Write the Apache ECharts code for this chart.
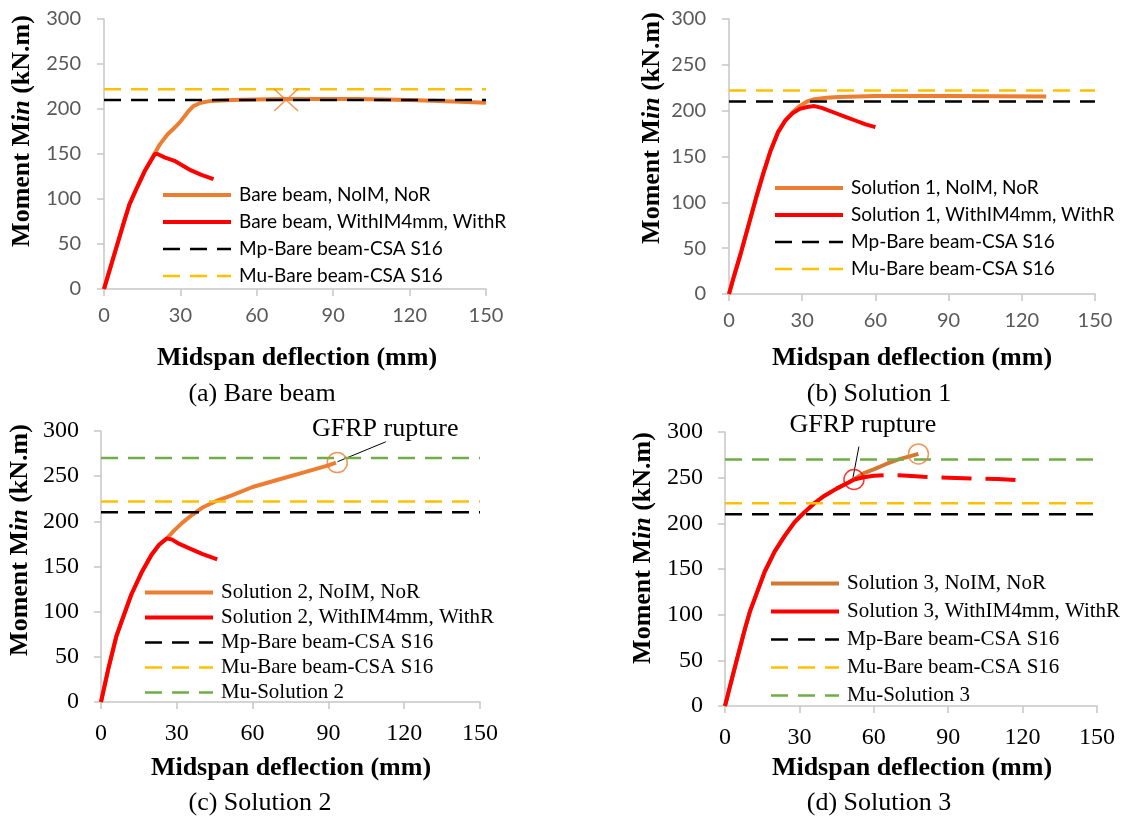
<!DOCTYPE html>
<html><head><meta charset="utf-8">
<script src="https://cdn.jsdelivr.net/npm/echarts@6/dist/echarts.min.js"></script>
<style>html,body{margin:0;padding:0;background:#fff}#c{width:1126px;height:819px}</style>
</head><body><div id="c"></div>
<script>
// ---------- axis ticks ----------
const xAxisMin = 0, xAxisMax = 150, xAxisStep = 30;
const yAxisMin = 0, yAxisMax = 300, yAxisStep = 50;

// ---------- capacity lines (kN.m) ----------
const mpBare = 210;
const muBare = 222;
const muSolution2 = 270;
const muSolution3 = 270;

// ---------- (a) Bare beam ----------
const bareNoIM = [[0,0],[2,19],[4,38],[6,57],[8,76],[10,94],[13,113],[16,131],[20,151],[22,161],[25,172],[28,180],[30,186],[33,197],[35,203],[38,207],[42,209],[50,210],[70,211],[100,211],[120,210],[140,208],[150,207]];
const bareWithIM = [[0,0],[2,19],[4,38],[6,57],[8,76],[10,94],[13,113],[16,131],[20,150],[21,150],[24,146],[28,142],[31,137],[34,132],[38,127],[43,122]];
const bareEnd = [[71.5,210]];

// ---------- (b) Solution 1 ----------
const sol1NoIM = [[0,0],[2,19],[5,46],[8,75],[11,104],[14,131],[17,156],[20,176],[23,189],[26,198],[29,205],[32,210],[35,212.5],[40,214],[45,215],[60,216],[90,216],[130,215.5]];
const sol1WithIM = [[0,0],[2,19],[5,46],[8,75],[11,104],[14,131],[17,156],[20,176],[23,189],[26,197],[29,202],[32,204],[35,205],[38,203],[43,198],[48,193],[52,189],[56,185],[60,182]];

// ---------- (c) Solution 2 ----------
const sol2NoIM = [[0,0],[3,38],[6,72],[8,88],[12,119],[16,143],[20,163],[23,174],[26,181],[29,190],[32,198],[36,207],[40,215],[46,223],[52,229],[60,238],[70,246],[80,254],[90,262],[93,265]];
const sol2WithIM = [[0,0],[3,38],[6,72],[8,88],[12,119],[16,143],[20,163],[23,174],[26,181],[28,180],[31,175],[35,170],[40,164],[46,158]];
const sol2Rupture = [[93.5,265]];

// ---------- (d) Solution 3 ----------
const sol3NoIM = [[0,0],[3,32],[5,53],[8,84],[10,103],[13,125],[16,147],[20,169],[24,186],[28,201],[32,212],[36,222],[40,230],[45,238],[50,245],[52,248],[56,255],[60,259],[65,265],[70,270],[74,273],[78,276]];
const sol3WithIM = [[0,0],[3,32],[5,53],[8,84],[10,103],[13,125],[16,147],[20,169],[24,186],[28,201],[32,212],[36,222],[40,230],[45,238],[50,245],[52,248]];
const sol3WithIMPost = [[52,248],[56,250.5],[60,252],[66,253],[72,252.5],[80,251],[90,250],[100,249],[110,248.5],[120,247]];
const sol3RuptureNoIM = [[78,276]];
const sol3RuptureWithIM = [[52,248]];

// ---------- annotation anchors (data units) ----------
const annotC = {text:'GFRP rupture', textAt:[112.5,302], from:[112.7,288], to:[93.6,266]};
const annotD = {text:'GFRP rupture', textAt:[55.6,307.5], from:[54,284], to:[51.6,250]};

const SERIF = 'Liberation Serif';
const SANS = 'Lato';
const ORANGE = '#ED7D31', ORANGE_D = '#D27A33', RED = '#FF0000', BLACK = '#000000', GOLD = '#FFC000', GREEN = '#70AD47';

const grids = [
  {left:104, top:19, width:382, height:270},
  {left:729, top:19, width:366, height:275},
  {left:101, top:431, width:379, height:271},
  {left:725, top:432, width:372, height:274}
];
const serifPanel = [false,false,true,true];

function xAx(i){
  const s = serifPanel[i];
  return {type:'value', gridIndex:i, min:xAxisMin, max:xAxisMax, interval:xAxisStep,
    axisLine:{show:true, lineStyle:{color:'#C6C6C6', width:1.5}},
    axisTick:{show:true, length:7, lineStyle:{color:'#C6C6C6', width:1.5}},
    splitLine:{show:false},
    axisLabel:{margin: s?20:17, fontFamily: s?SERIF:SANS, fontSize: s?24:20, color: s?'#000':'#595959'}};
}
function yAx(i){
  const s = serifPanel[i];
  return {type:'value', gridIndex:i, min:yAxisMin, max:yAxisMax, interval:yAxisStep,
    axisLine:{show:true, onZero:false, lineStyle:{color:'#C6C6C6', width:1.5}},
    axisTick:{show:true, length:7, lineStyle:{color:'#C6C6C6', width:1.5}},
    splitLine:{show:false},
    axisLabel:{margin: s?22:23, fontFamily: s?SERIF:SANS, fontSize: s?24:20, color: s?'#000':'#595959'}};
}
function line(i, name, data, color, width, dash){
  return {type:'line', name, data, xAxisIndex:i, yAxisIndex:i, symbol:'none', smooth:false,
    lineStyle:{color, width, type: dash || 'solid'}, itemStyle:{color}, z:2, animation:false};
}
function hline(i, name, v, color){
  return line(i, name, [[xAxisMin,v],[xAxisMax,v]], color, 2.5, [17,10]);
}
function marker(i, name, data, color, symbol, size){
  return {type:'scatter', name, data, xAxisIndex:i, yAxisIndex:i, symbol, symbolSize:size,
    itemStyle:{color:'rgba(0,0,0,0)', borderColor:color, borderWidth:1.5}, z:5, animation:false, silent:true};
}

const series = [
  line(0,'Bare beam, NoIM, NoR', bareNoIM, ORANGE, 4),
  line(0,'Bare beam, WithIM4mm, WithR', bareWithIM, RED, 4),
  hline(0,'Mp-Bare beam-CSA S16', mpBare, BLACK),
  hline(0,'Mu-Bare beam-CSA S16', muBare, GOLD),
  marker(0,'bare-end', bareEnd, ORANGE, 'path://M0,0L10,10M10,0L0,10', [24,22]),

  line(1,'Solution 1, NoIM, NoR', sol1NoIM, ORANGE, 4),
  line(1,'Solution 1, WithIM4mm, WithR', sol1WithIM, RED, 4),
  hline(1,'Mp-Bare beam-CSA S16', mpBare, BLACK),
  hline(1,'Mu-Bare beam-CSA S16', muBare, GOLD),

  line(2,'Solution 2, NoIM, NoR', sol2NoIM, ORANGE, 4),
  line(2,'Solution 2, WithIM4mm, WithR', sol2WithIM, RED, 4),
  hline(2,'Mp-Bare beam-CSA S16', mpBare, BLACK),
  hline(2,'Mu-Bare beam-CSA S16', muBare, GOLD),
  hline(2,'Mu-Solution 2', muSolution2, GREEN),
  marker(2,'sol2-rupture', sol2Rupture, ORANGE, 'circle', 20),

  line(3,'Solution 3, NoIM, NoR', sol3NoIM, ORANGE_D, 4),
  line(3,'Solution 3, WithIM4mm, WithR', sol3WithIM, RED, 4),
  line(3,'Solution 3, WithIM4mm, WithR, post', sol3WithIMPost, RED, 4, [30,14]),
  hline(3,'Mp-Bare beam-CSA S16', mpBare, BLACK),
  hline(3,'Mu-Bare beam-CSA S16', muBare, GOLD),
  hline(3,'Mu-Solution 3', muSolution3, GREEN),
  marker(3,'sol3-rupture-a', sol3RuptureNoIM, ORANGE, 'circle', 20),
  marker(3,'sol3-rupture-b', sol3RuptureWithIM, RED, 'circle', 20)
];

function legend(names, left, top, serif, gap){
  return {orient:'vertical', left, top, itemWidth:68, itemHeight:14, itemGap:gap, padding:0,
    selectedMode:false, data:names,
    itemStyle:{opacity:0},
    lineStyle:{width:'inherit'},
    textStyle:{fontFamily: serif?SERIF:SANS, fontSize: serif?21:19, color:'#000', lineHeight:20, padding:[0,0,0,3]}};
}

const option = {
  animation:false,
  backgroundColor:'#fff',
  grid: grids.map(g=>Object.assign({containLabel:false}, g)),
  xAxis: [0,1,2,3].map(xAx),
  yAxis: [0,1,2,3].map(yAx),
  legend: [
    legend(['Bare beam, NoIM, NoR','Bare beam, WithIM4mm, WithR','Mp-Bare beam-CSA S16','Mu-Bare beam-CSA S16'], 161, 185, false, 7),
    legend(['Solution 1, NoIM, NoR','Solution 1, WithIM4mm, WithR','Mp-Bare beam-CSA S16','Mu-Bare beam-CSA S16'], 773, 178, false, 7),
    legend(['Solution 2, NoIM, NoR','Solution 2, WithIM4mm, WithR','Mp-Bare beam-CSA S16','Mu-Bare beam-CSA S16','Mu-Solution 2'], 143, 582, true, 4),
    legend(['Solution 3, NoIM, NoR','Solution 3, WithIM4mm, WithR','Mp-Bare beam-CSA S16','Mu-Bare beam-CSA S16','Mu-Solution 3'], 769, 573, true, 7)
  ],
  series
};

const chart = echarts.init(document.getElementById('c'), null, {renderer:'canvas'});
chart.setOption(option);

function yTitle(cx, cy){
  return {type:'text', x:cx, y:cy, rotation:Math.PI/2, silent:true,
    style:{text:'{n|Moment M}{i|in}{n| (kN.m)}', align:'center', verticalAlign:'middle',
      rich:{n:{fontFamily:SERIF, fontWeight:'bold', fontSize:26, fill:'#000'},
            i:{fontFamily:SERIF, fontWeight:'bold', fontStyle:'italic', fontSize:26, fill:'#000'}}}};
}
function plainText(cx, cy, text, size, bold){
  return {type:'text', x:cx, y:cy, silent:true,
    style:{text, align:'center', verticalAlign:'middle', fontFamily:SERIF, fontSize:size, fontWeight: bold?'bold':'normal', fill:'#000'}};
}
function annot(gi, a){
  const t = chart.convertToPixel({gridIndex:gi}, a.textAt);
  const p1 = chart.convertToPixel({gridIndex:gi}, a.from);
  const p2 = chart.convertToPixel({gridIndex:gi}, a.to);
  return [
    plainText(t[0], t[1], a.text, 26, false),
    {type:'line', silent:true, shape:{x1:p1[0], y1:p1[1], x2:p2[0], y2:p2[1]}, style:{stroke:'#000', lineWidth:1}}
  ];
}

const graphics = [
  yTitle(22,131), yTitle(652,128), yTitle(20,540), yTitle(643,548),
  plainText(297,358,'Midspan deflection (mm)',26,true),
  plainText(912,358,'Midspan deflection (mm)',26,true),
  plainText(291,768,'Midspan deflection (mm)',26,true),
  plainText(912,768,'Midspan deflection (mm)',26,true),
  plainText(262,394,'(a) Bare beam',26,false),
  plainText(879,394,'(b) Solution 1',26,false),
  plainText(260,803,'(c) Solution 2',26,false),
  plainText(879,803,'(d) Solution 3',26,false)
].concat(annot(2, annotC), annot(3, annotD));

chart.setOption({graphic:{elements:graphics}});
</script>
</body></html>
